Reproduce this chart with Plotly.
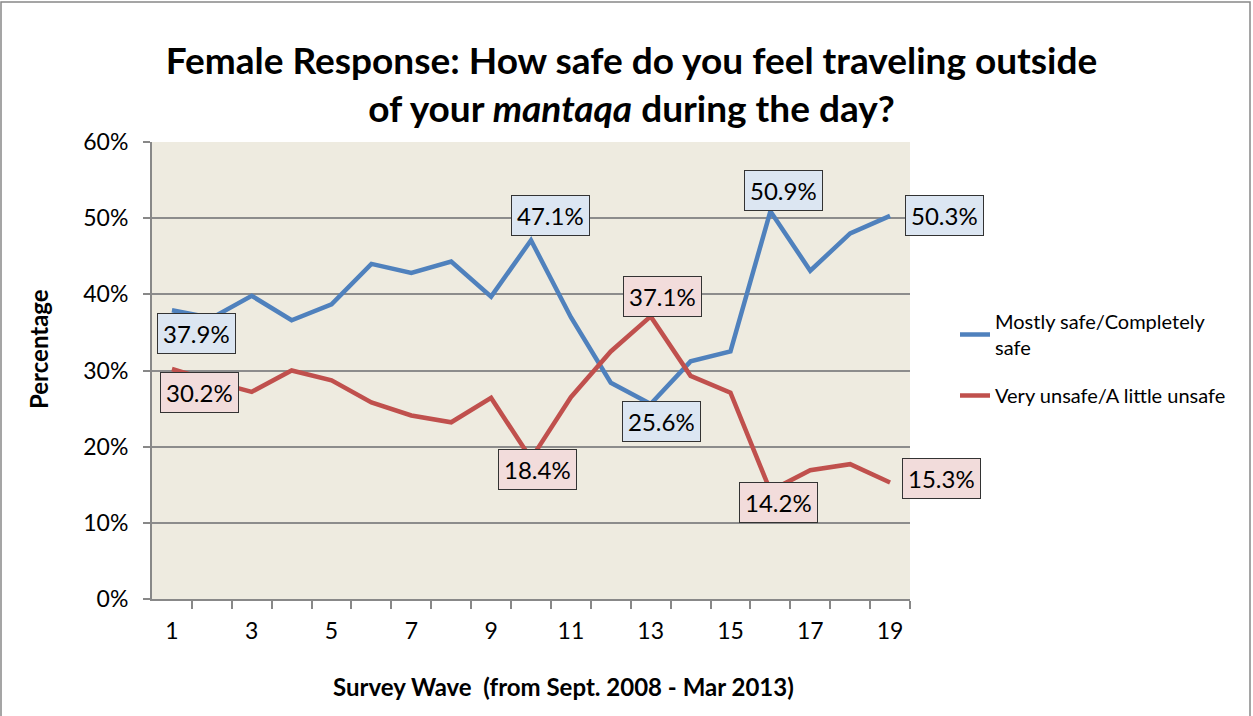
import plotly.graph_objects as go

waves = list(range(1, 20))
safe = [0.379, 0.369, 0.398, 0.366, 0.387, 0.440, 0.428, 0.443, 0.397, 0.471,
        0.370, 0.284, 0.256, 0.312, 0.325, 0.509, 0.431, 0.480, 0.503]
unsafe = [0.302, 0.286, 0.272, 0.300, 0.287, 0.258, 0.241, 0.232, 0.264, 0.184,
          0.265, 0.325, 0.371, 0.293, 0.271, 0.142, 0.169, 0.177, 0.153]
series_names = ["Mostly safe/Completely<br>safe", "Very unsafe/A little unsafe"]
tick_labels = [str(v) for v in range(1, 20, 2)]
label_safe = {1: (25, -23), 10: (19, 25), 13: (11, -17), 16: (13, 21), 19: (54, 0)}
label_unsafe = {1: (28, -24), 10: (6, -11), 13: (12, 20), 16: (8, -12), 19: (51, 4)}

FONT = "Lato"
BLUE = "#4F81BD"
RED = "#C0504D"

ML, MR, MT, MB = 152, 343, 142, 117
W, H = 1253, 716
pw, ph = W - ML - MR, H - MT - MB

fig = go.Figure()
fig.add_trace(go.Scatter(x=waves, y=safe, mode="lines", name=series_names[0],
                         line=dict(color=BLUE, width=4.5), legendgroup="a"))
fig.add_trace(go.Scatter(x=waves, y=unsafe, mode="lines", name=series_names[1],
                         line=dict(color=RED, width=4.5), legendgroup="b"))

ann = []
for vals, labels, bg in ((safe, label_safe, "#DCE6F2"), (unsafe, label_unsafe, "#F2DCDB")):
    for w, (dx, dy) in labels.items():
        v = vals[w - 1]
        ann.append(dict(x=w, y=v, xref="x", yref="y", text=f"{v*100:.1f}%",
                        showarrow=False, xshift=dx, yshift=dy,
                        font=dict(family=FONT, size=24, color="#000"),
                        bgcolor=bg, bordercolor="#333", borderwidth=1, borderpad=5))

# axis titles as annotations (positioned like the original)
ann.append(dict(x=(563 - ML) / pw, y=(599 - 686) / ph, xref="paper", yref="paper",
                xanchor="center", yanchor="middle", showarrow=False,
                text="<b>Survey Wave  (from Sept. 2008 - Mar 2013)</b>",
                font=dict(family=FONT, size=24, color="#000")))
ann.append(dict(x=(38 - ML) / pw, y=(599 - 349) / ph, xref="paper", yref="paper",
                xanchor="center", yanchor="middle", showarrow=False, textangle=-90,
                text="<b>Percentage</b>", font=dict(family=FONT, size=24, color="#000")))

fig.update_layout(
    width=W, height=H,
    margin=dict(l=ML, r=MR, t=MT, b=MB),
    paper_bgcolor="white", plot_bgcolor="#EEEBE0",
    font=dict(family=FONT, color="#000"),
    title=dict(text="<b>Female Response: How safe do you feel traveling outside<br>of your <i>mantaqa</i> during the day?</b>",
               x=0.504, xanchor="center", y=1 - 73.5 / H, yanchor="middle", yref="container",
               font=dict(family=FONT, size=37, color="#000")),
    xaxis=dict(range=[0.5, 19.5], tickvals=list(range(1, 20, 2)), ticktext=tick_labels,
               showgrid=False, zeroline=False, showline=True, linecolor="#888", linewidth=2,
               ticks="", ticklabelstandoff=10, tickfont=dict(family=FONT, size=23, color="#000"),
               minor=dict(tickvals=[x + 0.5 for x in range(1, 20)], ticks="outside",
                          ticklen=8, tickcolor="#888", tickwidth=2, showgrid=False)),
    yaxis=dict(range=[0, 0.6], dtick=0.1, tickformat=".0%", showgrid=True,
               gridcolor="#8C8C8C", gridwidth=2, zeroline=False, showline=True,
               linecolor="#888", linewidth=2, ticks="outside", ticklen=7, tickcolor="#888",
               tickwidth=2, ticklabelstandoff=10, tickfont=dict(family=FONT, size=23, color="#000")),
    legend=dict(x=(955 - ML) / pw, y=(599 - 302) / ph, xanchor="left", yanchor="top",
                font=dict(family=FONT, size=20, color="#000"), traceorder="grouped",
                tracegroupgap=19, bgcolor="rgba(0,0,0,0)"),
    annotations=ann,
    shapes=[dict(type="rect", xref="paper", yref="paper",
                 x0=-(ML - 1) / pw, x1=1 + (MR - 3) / pw, y0=-(MB + 5) / ph, y1=1 + (MT - 2) / ph,
                 line=dict(color="#888", width=1.5), fillcolor="rgba(0,0,0,0)", layer="below")],
)

fig.write_html("out.html", config={"displayModeBar": False},
               post_script="document.body.style.margin='0';document.body.style.overflow='hidden';")
